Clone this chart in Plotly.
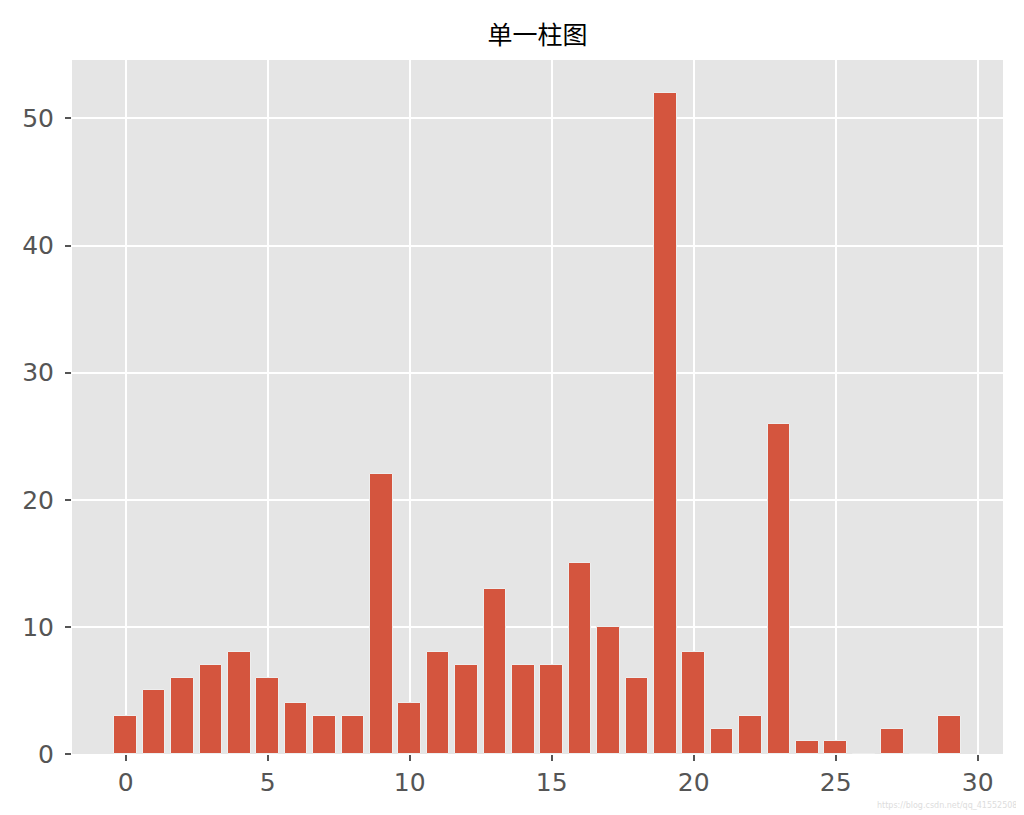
import plotly.graph_objects as go

categories = list(range(30))
values = [3, 5, 6, 7, 8, 6, 4, 3, 3, 22, 4, 8, 7, 13, 7, 7, 15, 10, 6, 52,
          8, 2, 3, 26, 1, 1, 0, 2, 0, 3]
x_ticks = [0, 5, 10, 15, 20, 25, 30]
y_ticks = [0, 10, 20, 30, 40, 50]
title_text = "单一柱图"
watermark = "https://blog.csdn.net/qq_41552508"

# page body has an 8px margin; compensate so the plot sits where the reference has it
OFF = 8
W, H = 1024 - OFF, 815 - OFF
L = 72 - OFF          # plot left at 72
T = 60 - OFF          # plot top at 60
R = W + OFF - 1003    # plot right at 1003
B = H + OFF - 754     # plot bottom at 754

fig = go.Figure()
fig.add_trace(go.Bar(
    x=categories, y=values, width=0.8,
    marker=dict(color="#D4553E", line=dict(color="#EEEEEE", width=1)),
))

axis_common = dict(
    showgrid=True, gridcolor="white", gridwidth=2,
    ticks="outside", ticklen=6, tickwidth=1.5, tickcolor="#555555",
    tickfont=dict(family="DejaVu Sans", size=25, color="#555555"),
    zeroline=False, showline=False, automargin=False,
)

plot_w = W - L - R
plot_h = H - T - B

fig.update_layout(
    width=W, height=H,
    margin=dict(l=L, r=R, t=T, b=B),
    paper_bgcolor="white", plot_bgcolor="#E5E5E5",
    showlegend=False, bargap=0,
    title=dict(text=title_text, x=(537.5 - OFF) / W, xanchor="center",
               y=1 - (35 - OFF) / H, yanchor="middle",
               font=dict(family="Noto Sans CJK SC", size=25, color="#000000")),
    xaxis=dict(range=[-1.89, 30.89], tickvals=x_ticks, ticktext=[str(v) for v in x_ticks],
               ticklabelstandoff=0, **axis_common),
    yaxis=dict(range=[0, 54.6], tickvals=y_ticks, ticktext=[str(v) for v in y_ticks],
               ticklabelstandoff=6, **axis_common),
    annotations=[dict(text=watermark, xref="paper", yref="paper",
                      x=(1019 - 72) / plot_w, y=-(805 - 754) / plot_h,
                      xanchor="right", yanchor="middle", showarrow=False,
                      font=dict(family="DejaVu Sans", size=8, color="#DDDDDD"))],
)

fig.write_html("out.html")
